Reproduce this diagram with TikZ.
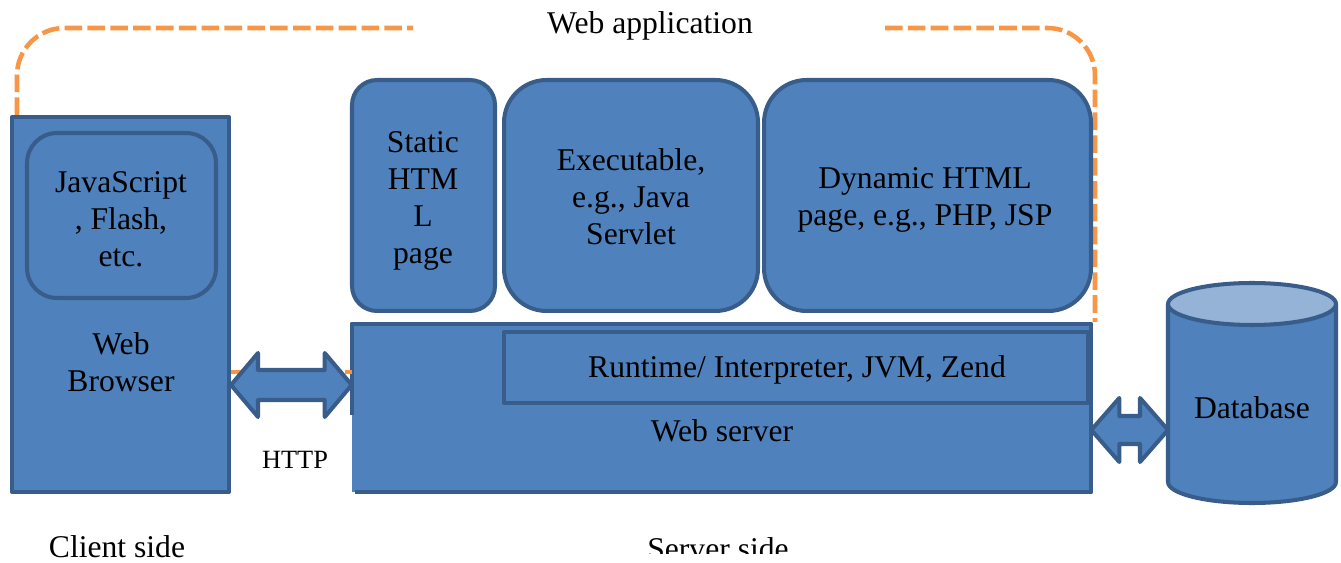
\documentclass[tikz,border=0pt]{standalone}
\usepackage{fontspec}
\setmainfont{Liberation Serif}
\usetikzlibrary{calc}

\definecolor{boxfill}{HTML}{4F81BD}
\definecolor{boxline}{HTML}{385D8A}
\definecolor{dbtop}{HTML}{95B3D7}
\definecolor{appline}{HTML}{F79646}

\begin{document}
\begin{tikzpicture}[x=0.02cm,y=-0.02cm,line join=round]
  \tikzstyle{box}=[draw=boxline,fill=boxfill,line width=2.3pt,inner sep=0pt]
  \tikzstyle{lbl}=[align=center,font=\fontsize{18}{21}\selectfont]
  \tikzstyle{app}=[draw=appline,line width=2.6pt,dash pattern=on 10pt off 3pt]

  \useasboundingbox (0,0) rectangle (1341,563);

  % web application boundary
  \draw[app,rounded corners=0.95cm] (17,115) -- (17,28) -- (413,28);
  \draw[app,rounded corners=0.95cm] (885,28) -- (1095,28) -- (1095,322);
  \node[lbl,anchor=base] (app) at (650,34) {Web application};

  % client
  \node[box,minimum width=4.34cm,minimum height=7.5cm] (brw) at (120.5,304.5) {};
  \node[box,rounded corners=0.6cm,minimum width=3.78cm,minimum height=3.3cm] (js) at (121.5,215.5) {};
  \node[lbl] (jstxt) at (121,219) {JavaScript\\, Flash,\\etc.};
  \node[lbl] (brwtxt) at (121,362) {Web\\Browser};

  % server side pages
  \node[box,rounded corners=0.5cm,minimum width=2.86cm,minimum height=4.62cm] (stat) at (423.5,195.5) {};
  \node[box,rounded corners=0.85cm,minimum width=5.08cm,minimum height=4.62cm] (exe) at (631,195.5) {};
  \node[box,rounded corners=0.85cm,minimum width=6.54cm,minimum height=4.62cm] (dyn) at (927.5,195.5) {};
  \node[lbl] (stattxt) at (423,201) {Static\\HTM\\L\\page};
  \node[lbl] (exetxt) at (631,197) {Executable,\\e.g., Java\\Servlet};
  \node[lbl] (dyntxt) at (925,200) {Dynamic HTML\\page, e.g., PHP, JSP};

  % web server
  \node[fill=boxfill,minimum width=14.78cm,minimum height=3.36cm,inner sep=0pt] (srv) at (721.5,408) {};
  \draw[boxline,line width=2.3pt] ($(srv.north west)+(0,91)$) -- (srv.north west) -- (srv.north east)
    -- (srv.south east) -- ($(srv.south west)+(3,0)$);
  \node[box,minimum width=11.68cm,minimum height=1.42cm] (rt) at (796,367.5) {};
  \node[lbl] (rttxt) at (797,370) {Runtime/ Interpreter, JVM, Zend};
  \node[lbl] (srvtxt) at (722,431) {Web server};

  % database
  \coordinate (db) at (1168,430);
  \draw[box] (1168,304) -- (1168,482) arc[start angle=180,end angle=360,x radius=1.68cm,y radius=0.42cm]
    -- (1336,304) -- cycle;
  \draw[box,fill=dbtop] (1252,304) ellipse[x radius=1.68cm,y radius=0.42cm];
  \node[lbl] (dbtxt) at (1252,408) {Database};

  % HTTP link
  \coordinate (h1) at (brw.east |- 0,385);
  \coordinate (h2) at (srv.west |- 0,385);
  \draw[app] (brw.east |- 0,372) -- (srv.west |- 0,372);
  \draw[box] (h1) -- ++(27,-32) -- ++(0,17) -- ($(h2)+(-27,-15)$) -- ++(0,-17) -- (h2)
    -- ++(-27,32) -- ++(0,-17) -- ($(h1)+(27,15)$) -- ++(0,17) -- cycle;
  \node[font=\fontsize{15}{18}\selectfont] (http) at (295,460) {HTTP};

  % database link
  \coordinate (d1) at (srv.east |- db);
  \draw[box] (d1) -- ++(28,-32) -- ++(0,18) -- ($(db)+(-28,-14)$) -- ++(0,-18) -- (db)
    -- ++(-28,32) -- ++(0,-18) -- ($(d1)+(28,14)$) -- ++(0,18) -- cycle;

  % sides
  \node[lbl,anchor=base] (client) at (117,557) {Client side};
  \begin{scope}
    \clip (0,0) rectangle (1341,553);
    \node[lbl,anchor=base] (server) at (718,559) {Server side};
  \end{scope}
\end{tikzpicture}
\end{document}
